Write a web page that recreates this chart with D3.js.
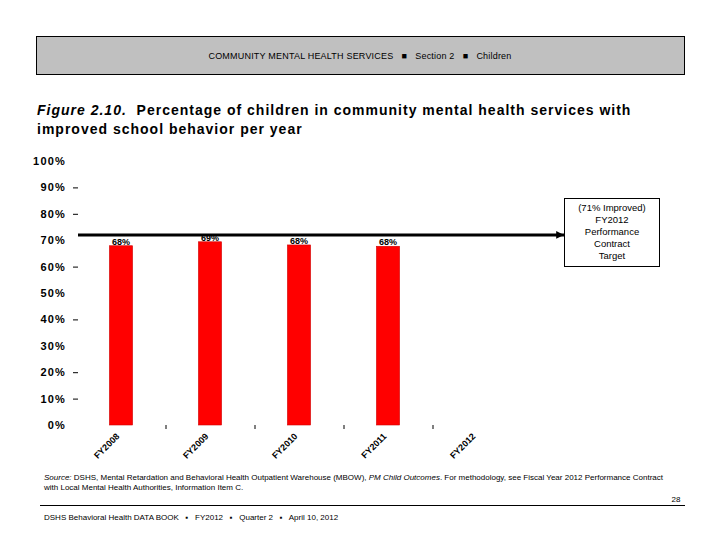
<!DOCTYPE html>
<html>
<head>
<meta charset="utf-8">
<script src="https://cdn.jsdelivr.net/npm/d3@7"></script>
<style>
  body { margin: 0; background: #fff; }
  svg { display: block; font-family: "Liberation Sans", Arial, sans-serif; }
</style>
</head>
<body>
<script>
// data
var years = ["FY2008", "FY2009", "FY2010", "FY2011", "FY2012"];
var values = [67.9, 69.4, 68.2, 67.7, null];
var yTicks = [0, 10, 20, 30, 40, 50, 60, 70, 80, 90, 100];
var dashTicks = [10, 20, 40, 60, 80, 90];
var targetLevel = 72;
var targetText = ["(71% Improved)", "FY2012", "Performance", "Contract", "Target"];

var width = 720, height = 540;

var svg = d3.select("body").append("svg")
    .attr("width", width)
    .attr("height", height);

// header band
svg.append("rect")
    .attr("x", 36.5).attr("y", 36.5)
    .attr("width", 648).attr("height", 38)
    .attr("fill", "#c0c0c0")
    .attr("stroke", "#000");

svg.append("text")
    .attr("x", 360).attr("y", 59)
    .attr("text-anchor", "middle")
    .attr("font-size", 9)
    .attr("letter-spacing", 0.2)
    .attr("xml:space", "preserve")
    .text("COMMUNITY MENTAL HEALTH SERVICES   \u25A0   Section 2   \u25A0   Children");

// title
var title = svg.append("text")
    .attr("x", 37).attr("y", 115)
    .attr("font-size", 14)
    .attr("font-weight", "bold")
    .attr("letter-spacing", 1)
    .attr("xml:space", "preserve");
title.append("tspan").attr("font-style", "italic").text("Figure 2.10.");
title.append("tspan").text("  Percentage of children in community mental health services with");
svg.append("text")
    .attr("x", 37).attr("y", 134)
    .attr("font-size", 14)
    .attr("font-weight", "bold")
    .attr("letter-spacing", 1)
    .text("improved school behavior per year");

// scales
var x = d3.scaleBand()
    .domain(years)
    .range([76.5, 521.5])
    .paddingInner(0.74)
    .paddingOuter(0.37);

var y = d3.scaleLinear()
    .domain([0, 100])
    .range([425, 161]);

// y labels
svg.append("g").selectAll("text")
    .data(yTicks)
    .enter().append("text")
    .attr("x", 66)
    .attr("y", function(d) { return y(d) + 4; })
    .attr("text-anchor", "end")
    .attr("font-size", 11)
    .attr("font-weight", "bold")
    .attr("letter-spacing", 1.2)
    .text(function(d) { return d + "%"; });

svg.append("g").selectAll("line")
    .data(dashTicks)
    .enter().append("line")
    .attr("x1", 73).attr("x2", 78)
    .attr("y1", function(d) { return y(d) + 0.5; })
    .attr("y2", function(d) { return y(d) + 0.5; })
    .attr("stroke", "#000");

// small ticks between categories
svg.append("g").selectAll("line")
    .data(years.slice(1))
    .enter().append("line")
    .attr("x1", function(d) { return x(d) - x.step() * 0.37 + 0.5; })
    .attr("x2", function(d) { return x(d) - x.step() * 0.37 + 0.5; })
    .attr("y1", 425).attr("y2", 429)
    .attr("stroke", "#000");

// bars
var barData = years.map(function(d, i) { return {year: d, value: values[i]}; })
    .filter(function(d) { return d.value != null; });

svg.append("g").selectAll("rect")
    .data(barData)
    .enter().append("rect")
    .attr("x", function(d) { return x(d.year); })
    .attr("y", function(d) { return y(d.value); })
    .attr("width", x.bandwidth())
    .attr("height", function(d) { return y(0) - y(d.value); })
    .attr("fill", "#ff0000")
    .attr("stroke", "#d00000")
    .attr("stroke-width", 0.6);

svg.append("g").selectAll("text")
    .data(barData)
    .enter().append("text")
    .attr("x", function(d) { return x(d.year) + x.bandwidth() / 2; })
    .attr("y", function(d) { return y(d.value) - 1; })
    .attr("text-anchor", "middle")
    .attr("font-size", 9)
    .attr("font-weight", "bold")
    .text(function(d) { return Math.round(d.value) + "%"; });

// x labels
svg.append("g").selectAll("text")
    .data(years)
    .enter().append("text")
    .attr("text-anchor", "end")
    .attr("font-size", 9)
    .attr("font-weight", "bold")
    .attr("transform", function(d) {
      return "translate(" + (x(d) + x.bandwidth() / 2 - 1) + ",437) rotate(-45)";
    })
    .text(function(d) { return d; });

// target line + arrow
svg.append("defs").append("marker")
    .attr("id", "arr")
    .attr("viewBox", "0 0 10 10")
    .attr("refX", 10).attr("refY", 5)
    .attr("markerWidth", 2.6).attr("markerHeight", 2.6)
    .attr("orient", "auto")
    .append("path")
    .attr("d", "M0,0L10,5L0,10Z")
    .attr("fill", "#000");

svg.append("line")
    .attr("x1", 78).attr("x2", 564)
    .attr("y1", y(targetLevel)).attr("y2", y(targetLevel))
    .attr("stroke", "#000")
    .attr("stroke-width", 3)
    .attr("marker-end", "url(#arr)");

svg.append("rect")
    .attr("x", 564.5).attr("y", 198.5)
    .attr("width", 95).attr("height", 68)
    .attr("fill", "#fff")
    .attr("stroke", "#000");

svg.append("g").selectAll("text")
    .data(targetText)
    .enter().append("text")
    .attr("x", 612)
    .attr("y", function(d, i) { return 211 + i * 12; })
    .attr("text-anchor", "middle")
    .attr("font-size", 9.5)
    .text(function(d) { return d; });

// source note
var src = svg.append("text")
    .attr("x", 44).attr("y", 480)
    .attr("font-size", 8)
    .attr("xml:space", "preserve");
src.append("tspan").attr("font-style", "italic").text("Source:");
src.append("tspan").text(" DSHS, Mental Retardation and Behavioral Health Outpatient Warehouse (MBOW), ");
src.append("tspan").attr("font-style", "italic").text("PM Child Outcomes");
src.append("tspan").text(". For methodology, see Fiscal Year 2012 Performance Contract");
svg.append("text")
    .attr("x", 44).attr("y", 490)
    .attr("font-size", 8)
    .text("with Local Mental Health Authorities, Information Item C.");

// footer
svg.append("text")
    .attr("x", 676).attr("y", 502)
    .attr("text-anchor", "middle")
    .attr("font-size", 8)
    .text("28");
svg.append("line")
    .attr("x1", 40).attr("x2", 685)
    .attr("y1", 505.5).attr("y2", 505.5)
    .attr("stroke", "#000");
svg.append("text")
    .attr("x", 44).attr("y", 520)
    .attr("font-size", 8)
    .attr("xml:space", "preserve")
    .text("DSHS Behavioral Health DATA BOOK   \u25AA   FY2012   \u25AA   Quarter 2   \u25AA   April 10, 2012");
</script>
</body>
</html>
